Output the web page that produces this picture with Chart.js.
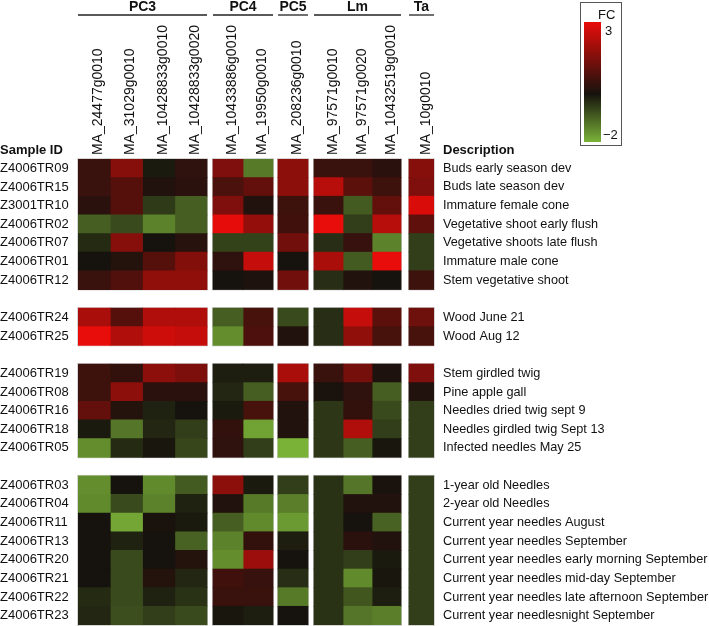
<!DOCTYPE html>
<html>
<head>
<meta charset="utf-8">
<script src="https://cdn.jsdelivr.net/npm/chart.js@4.4.1/dist/chart.umd.min.js"></script>
<style>
  html, body { margin: 0; padding: 0; background: #fff; }
  #wrap { position: relative; width: 709px; height: 626px; }
</style>
</head>
<body>
<div id="wrap"><canvas id="heatmap"></canvas></div>
<script>
// gene families (column groups) and genes
const families = ["PC3", "PC4", "PC5", "Lm", "Ta"];
const familySizes = [4, 2, 1, 3, 1];
const genes = [
  "MA_24477g0010", "MA_31029g0010", "MA_10428833g0010", "MA_10428833g0020",
  "MA_10433886g0010", "MA_19950g0010",
  "MA_208236g0010",
  "MA_97571g0010", "MA_97571g0020", "MA_10432519g0010",
  "MA_10g0010"
];

// samples, in four blocks
const sampleBlocks = [
  ["Z4006TR09", "Z4006TR15", "Z3001TR10", "Z4006TR02", "Z4006TR07", "Z4006TR01", "Z4006TR12"],
  ["Z4006TR24", "Z4006TR25"],
  ["Z4006TR19", "Z4006TR08", "Z4006TR16", "Z4006TR18", "Z4006TR05"],
  ["Z4006TR03", "Z4006TR04", "Z4006TR11", "Z4006TR13", "Z4006TR20", "Z4006TR21", "Z4006TR22", "Z4006TR23"]
];
const descriptionBlocks = [
  ["Buds early season dev", "Buds late season dev", "Immature female cone", "Vegetative shoot early flush",
   "Vegetative shoots late flush", "Immature male cone", "Stem vegetative shoot"],
  ["Wood June 21", "Wood Aug 12"],
  ["Stem girdled twig", "Pine apple gall", "Needles dried twig sept 9", "Needles girdled twig Sept 13",
   "Infected needles May 25"],
  ["1-year old Needles", "2-year old Needles", "Current year needles August", "Current year needles September",
   "Current year needles early morning September", "Current year needles mid-day September",
   "Current year needles late afternoon September", "Current year needlesnight September"]
];

// fold change (log scale, -2 .. 3), one row per sample, one value per gene
const fcDevelopment = [
  [0.5, 1.6, -0.1, 0.35, 1.5, -1.3, 1.7, 0.5, 0.5, 0.3, 1.6],
  [0.5, 0.9, 0.15, 0.3, 0.75, 1.1, 1.7, 2.3, 1.0, 0.55, 1.5],
  [0.3, 0.9, -0.5, -0.95, 1.5, 0.15, 0.55, 0.5, -0.9, 1.1, 2.8],
  [-0.95, -0.7, -1.4, -0.95, 2.95, 1.8, 0.6, 3.0, -0.55, 2.3, 1.05],
  [-0.3, 1.6, 0, 0.25, -0.6, -0.6, 1.3, -0.35, 0.45, -1.4, -0.55],
  [0, 0.2, 0.9, 1.55, 0.35, 2.5, 0, 2.1, -0.9, 3.0, -0.55],
  [0.5, 0.85, 1.75, 1.75, 0, 0.1, 1.3, -0.35, 0.15, 0, 0.55]
];
const fcWood = [
  [2.1, 0.9, 2.2, 2.2, -0.95, 0.7, -0.7, -0.35, 2.5, 1.0, 1.25],
  [3.0, 2.2, 2.6, 2.5, -1.55, 0.8, 0.15, -0.35, 1.75, 0.7, 0.7]
];
const fcStress = [
  [0.55, 0.4, 1.7, 1.45, -0.15, -0.15, 2.1, 0.5, 1.35, 0.1, 1.5],
  [0.55, 1.7, 0.3, 0.3, -0.25, -0.95, 0.7, 0.05, 0.35, -0.95, 0.15],
  [1.1, 0.2, -0.2, 0, -0.1, 0.7, 0.15, -0.45, 0.4, -0.7, -0.55],
  [-0.1, -1.25, -0.25, -0.55, 0.4, -1.8, 0.15, -0.45, 2.2, -0.55, -0.55],
  [-1.55, -0.3, -0.05, -0.65, 0.35, -0.55, -2.0, -0.45, -0.95, -0.05, -0.55]
];
const fcNeedles = [
  [-1.55, 0, -1.5, -0.9, 1.7, -0.1, -0.55, -0.4, -1.25, 0.05, -0.55],
  [-1.5, -0.7, -1.4, -0.2, 0.15, -1.3, -1.35, -0.4, 0.15, 0.15, -0.55],
  [0, -1.85, 0.05, -0.1, -0.95, -1.5, -1.7, -0.4, 0, -1.0, -0.55],
  [0, -0.2, 0, -1.0, -1.4, 0.4, -0.15, -0.4, 0.3, 0.15, -0.55],
  [0, -0.7, 0, 0.2, -1.55, 1.9, 0, -0.4, -0.55, -0.1, -0.55],
  [0, -0.7, 0.2, -0.25, 0.6, 0.45, -0.35, -0.4, -1.5, -0.05, -0.55],
  [-0.3, -0.7, -0.2, -0.4, 0.5, 0.5, -1.3, -0.4, -0.85, -0.15, -0.55],
  [-0.25, -0.75, -0.55, -0.7, -0.05, -0.15, 0, -0.4, -1.25, -1.35, -0.55]
];
const fcBlocks = [fcDevelopment, fcWood, fcStress, fcNeedles];

const FC_MIN = -2, FC_MAX = 3;

// ---- layout (px units of the x scale) ----
const FAMILY_LEFT = [0, 135, 200, 236, 331];
const FAMILY_COL_W = [32.25, 30, 30, 29, 25];
const X_SPAN = 356;
const FONT = "'Liberation Sans', Arial, sans-serif";

// colour scale: green (-2) -> near black (0) -> red (3)
const C_ZERO = [22, 18, 13], C_HIGH = [232, 12, 10], C_LOW = [122, 178, 56];
function fcColor(v) {
  const end = v >= 0 ? C_HIGH : C_LOW;
  const t = Math.min(1, v >= 0 ? v / FC_MAX : v / FC_MIN);
  const c = C_ZERO.map((z, i) => Math.round(z + (end[i] - z) * t));
  return `rgb(${c[0]},${c[1]},${c[2]})`;
}

// column extents from family layout
const columns = [];
families.forEach((f, g) => {
  for (let k = 0; k < familySizes[g]; k++) {
    const x0 = FAMILY_LEFT[g] + k * FAMILY_COL_W[g];
    columns.push({ family: g, x0, x1: x0 + FAMILY_COL_W[g] });
  }
});
const columnCenters = columns.map(c => (c.x0 + c.x1) / 2);

// rows with an empty row between blocks
const rowIds = [], rowDescs = [], rowValues = [], blockRows = [];
sampleBlocks.forEach((ids, b) => {
  if (b > 0) { rowIds.push(""); rowDescs.push(""); rowValues.push(null); }
  blockRows.push([rowIds.length, rowIds.length + ids.length - 1]);
  ids.forEach((id, i) => {
    rowIds.push(id);
    rowDescs.push(descriptionBlocks[b][i]);
    rowValues.push(fcBlocks[b][i]);
  });
});

const datasets = genes.map((gene, j) => ({
  label: gene,
  data: rowValues.map(r => (r ? [columns[j].x0, columns[j].x1] : null)),
  backgroundColor: rowValues.map(r => (r ? fcColor(r[j]) : "rgba(0,0,0,0)")),
  borderWidth: 0,
  inflateAmount: 0.4,
  grouped: false,
  barPercentage: 1,
  categoryPercentage: 1
}));

const annotations = {
  id: "annotations",
  beforeDatasetsDraw(chart) {
    // thin light frame round every block of cells
    const { ctx, scales: { x, y } } = chart;
    const half = (y.getPixelForValue(1) - y.getPixelForValue(0)) / 2;
    ctx.save();
    ctx.strokeStyle = "#d6d6d6";
    ctx.lineWidth = 1;
    families.forEach((f, g) => {
      const left = x.getPixelForValue(FAMILY_LEFT[g]);
      const right = x.getPixelForValue(FAMILY_LEFT[g] + familySizes[g] * FAMILY_COL_W[g]);
      blockRows.forEach(([r0, r1]) => {
        const top = y.getPixelForValue(r0) - half;
        const bottom = y.getPixelForValue(r1) + half;
        ctx.strokeRect(left - 0.5, top - 0.5, right - left + 1, bottom - top + 1);
      });
    });
    ctx.restore();
  },
  afterDraw(chart) {
    const { ctx, scales: { x } } = chart;
    ctx.save();
    ctx.fillStyle = "#111";
    ctx.strokeStyle = "#222";
    // family headers
    ctx.font = `bold 14px ${FONT}`;
    ctx.textAlign = "center";
    ctx.textBaseline = "middle";
    ctx.lineWidth = 1.3;
    families.forEach((f, g) => {
      const left = x.getPixelForValue(FAMILY_LEFT[g]);
      const right = x.getPixelForValue(FAMILY_LEFT[g] + familySizes[g] * FAMILY_COL_W[g]);
      ctx.fillText(f, (left + right) / 2, 7.5);
      ctx.beginPath();
      ctx.moveTo(left, 15);
      ctx.lineTo(right, 15);
      ctx.stroke();
    });
    // column titles
    ctx.font = `bold 13px ${FONT}`;
    ctx.textAlign = "left";
    ctx.fillText("Sample ID", 0, 150);
    ctx.fillText("Description", 443, 150);

    // colour key
    ctx.lineWidth = 1;
    ctx.strokeStyle = "#555";
    ctx.strokeRect(580.5, 2.5, 41, 143);
    const top = 22, bottom = 142;
    const grad = ctx.createLinearGradient(0, top, 0, bottom);
    for (let i = 0; i <= 20; i++) {
      const v = FC_MAX - (FC_MAX - FC_MIN) * i / 20;
      grad.addColorStop(i / 20, fcColor(v));
    }
    ctx.fillStyle = grad;
    ctx.fillRect(584, top, 17, bottom - top);
    ctx.fillStyle = "#111";
    ctx.font = `13px ${FONT}`;
    ctx.fillText("FC", 598, 15.5);
    ctx.fillText(String(FC_MAX), 605, 31.5);
    ctx.fillText("\u2212" + Math.abs(FC_MIN), 603, 135);
    ctx.restore();
  }
};

new Chart(document.getElementById("heatmap"), {
  type: "bar",
  data: { labels: rowIds, datasets },
  options: {
    indexAxis: "y",
    responsive: true,
    maintainAspectRatio: false,
    animation: false,
    layout: { padding: { top: 0, left: 0, right: 0, bottom: 1 } },
    plugins: { legend: { display: false }, tooltip: { enabled: false } },
    scales: {
      x: {
        type: "linear",
        position: "top",
        min: 0,
        max: X_SPAN,
        grid: { display: false, drawTicks: false },
        border: { display: false },
        afterBuildTicks: (scale) => { scale.ticks = columnCenters.map(v => ({ value: v })); },
        ticks: {
          autoSkip: false,
          minRotation: 90,
          maxRotation: 90,
          padding: 4,
          labelOffset: 21,
          color: "#111",
          font: { family: FONT, size: 14 },
          callback: (v, i) => genes[i]
        },
        afterFit: (scale) => { scale.height = 159; scale.paddingLeft = 0; scale.paddingRight = 0; }
      },
      y: {
        type: "category",
        position: "left",
        offset: true,
        grid: { display: false, drawTicks: false },
        border: { display: false },
        ticks: { crossAlign: "far", padding: 0, color: "#111", font: { family: FONT, size: 13 }, autoSkip: false },
        afterFit: (scale) => { scale.width = 78; scale.paddingTop = 0; scale.paddingBottom = 0; }
      },
      y2: {
        type: "category",
        position: "right",
        labels: rowDescs,
        offset: true,
        grid: { display: false, drawTicks: false },
        border: { display: false },
        ticks: { padding: 9, color: "#111", font: { family: FONT, size: 12.7 }, autoSkip: false },
        afterFit: (scale) => { scale.width = 275; scale.paddingTop = 0; scale.paddingBottom = 0; }
      }
    }
  },
  plugins: [annotations]
});
</script>
</body>
</html>
